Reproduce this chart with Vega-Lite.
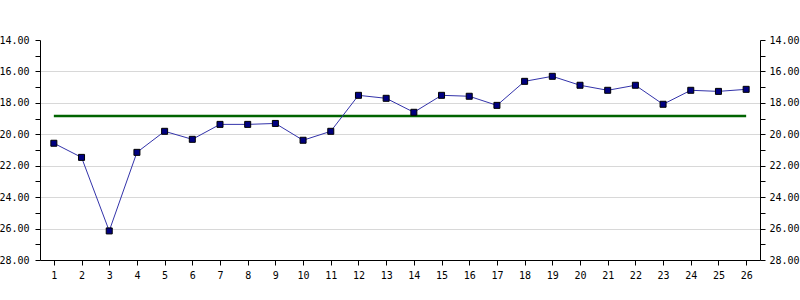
{
  "$schema": "https://vega.github.io/schema/vega-lite/v6.json",
  "width": 720,
  "height": 220,
  "autosize": "none",
  "padding": {"left": 40, "top": 40, "right": 40, "bottom": 40},
  "background": "white",
  "config": {
    "view": {"stroke": null},
    "axis": {
      "labelFont": "DejaVu Sans Mono",
      "labelFontSize": 10,
      "labelColor": "black",
      "domainColor": "black",
      "domainWidth": 1,
      "tickColor": "black",
      "tickWidth": 1,
      "gridColor": "#d8d8d8",
      "gridWidth": 1,
      "labelOverlap": false,
      "labelFlush": false,
      "title": null
    },
    "axisX": {"labelOverlap": false, "labelSeparation": 0}
  },
  "datasets": {
    "series": [
      {"point": 1, "value": 20.57},
      {"point": 2, "value": 21.47},
      {"point": 3, "value": 26.15},
      {"point": 4, "value": 21.15},
      {"point": 5, "value": 19.81},
      {"point": 6, "value": 20.32},
      {"point": 7, "value": 19.37},
      {"point": 8, "value": 19.37},
      {"point": 9, "value": 19.31},
      {"point": 10, "value": 20.38},
      {"point": 11, "value": 19.81},
      {"point": 12, "value": 17.52},
      {"point": 13, "value": 17.71},
      {"point": 14, "value": 18.6},
      {"point": 15, "value": 17.52},
      {"point": 16, "value": 17.58},
      {"point": 17, "value": 18.16},
      {"point": 18, "value": 16.63},
      {"point": 19, "value": 16.31},
      {"point": 20, "value": 16.88},
      {"point": 21, "value": 17.2},
      {"point": 22, "value": 16.88},
      {"point": 23, "value": 18.09},
      {"point": 24, "value": 17.2},
      {"point": 25, "value": 17.27},
      {"point": 26, "value": 17.14}
    ],
    "target": [
      {"point": 1, "value": 18.84},
      {"point": 26, "value": 18.84}
    ]
  },
  "layer": [
    {
      "data": {"name": "target"},
      "mark": {"type": "line", "color": "#006400", "strokeWidth": 2.5},
      "encoding": {
        "x": {
          "field": "point",
          "type": "quantitative",
          "scale": {"domain": [0.5, 26.5], "nice": false, "zero": false},
          "axis": {
            "values": [1,2,3,4,5,6,7,8,9,10,11,12,13,14,15,16,17,18,19,20,21,22,23,24,25,26],
            "format": "d",
            "grid": false,
            "tickSize": 5,
            "labelPadding": 5,
            "labelFlush": false,
            "labelOverlap": false
          }
        },
        "y": {
          "field": "value",
          "type": "quantitative",
          "scale": {"domain": [14, 28], "reverse": true, "nice": false, "zero": false},
          "axis": {
            "orient": "left",
            "values": [14,15,16,17,18,19,20,21,22,23,24,25,26,27,28],
            "labelExpr": "datum.value % 2 == 0 ? format(datum.value, '.2f') : ''",
            "grid": true,
            "gridOpacity": {"condition": {"test": "datum.value % 2 == 1 || datum.value == 14 || datum.value == 28", "value": 0}, "value": 1},
            "tickSize": 5,
            "labelPadding": 6,
            "labelFlush": false,
            "labelOverlap": false
          }
        }
      }
    },
    {
      "data": {"name": "series"},
      "mark": {"type": "line", "color": "#3333aa", "strokeWidth": 1},
      "encoding": {
        "x": {"field": "point", "type": "quantitative", "axis": {"labelOverlap": false, "values": [1,2,3,4,5,6,7,8,9,10,11,12,13,14,15,16,17,18,19,20,21,22,23,24,25,26], "format": "d", "grid": false, "tickSize": 5, "labelPadding": 5, "labelFlush": false}},
        "y": {"field": "value", "type": "quantitative", "axis": null}
      }
    },
    {
      "data": {"name": "series"},
      "mark": {"type": "square", "size": 36, "filled": true, "color": "#000080", "stroke": "black", "strokeWidth": 1, "opacity": 1},
      "encoding": {
        "x": {"field": "point", "type": "quantitative", "axis": {"labelOverlap": false, "values": [1,2,3,4,5,6,7,8,9,10,11,12,13,14,15,16,17,18,19,20,21,22,23,24,25,26], "format": "d", "grid": false, "tickSize": 5, "labelPadding": 5, "labelFlush": false}},
        "y": {
          "field": "value",
          "type": "quantitative",
          "axis": {
            "orient": "right",
            "values": [14,15,16,17,18,19,20,21,22,23,24,25,26,27,28],
            "labelExpr": "datum.value % 2 == 0 ? format(datum.value, '.2f') : ''",
            "grid": false,
            "tickSize": 5,
            "labelPadding": 4,
            "labelFlush": false,
            "labelOverlap": false
          }
        }
      }
    }
  ],
  "resolve": {"axis": {"y": "independent"}}
}
